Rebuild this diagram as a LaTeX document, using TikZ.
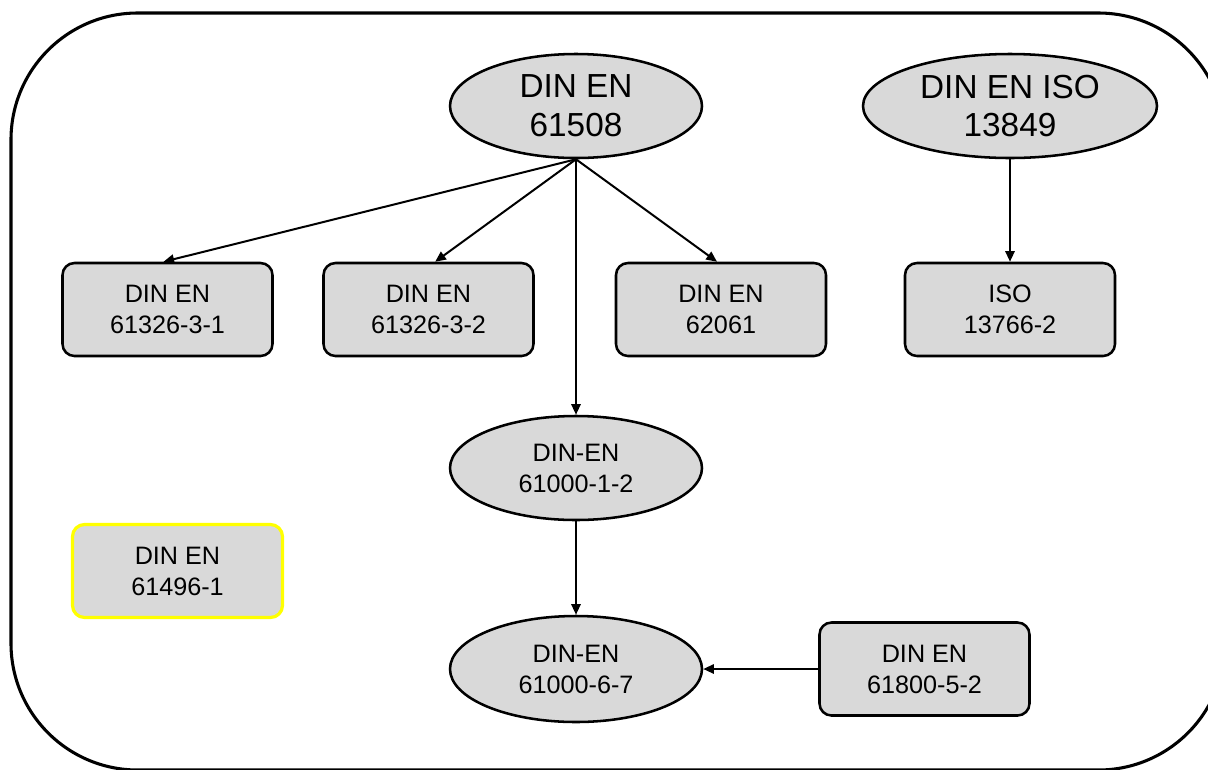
\documentclass[tikz,border=0pt]{standalone}
\usepackage{fontspec}
\setmainfont{Liberation Sans}
\usetikzlibrary{shapes.geometric,arrows.meta}
\definecolor{boxgray}{HTML}{D9D9D9}
\definecolor{hiyellow}{HTML}{FFFF00}
\tikzset{
  bigell/.style={ellipse, draw=black, fill=boxgray, line width=1.9pt, inner sep=0pt,
     minimum width=189pt, minimum height=78pt, align=center,
     font=\fontsize{25}{29}\selectfont},
  midell/.style={ellipse, draw=black, fill=boxgray, line width=1.9pt, inner sep=0pt,
     minimum width=189pt, minimum height=78pt, align=center,
     font=\fontsize{18.9}{23.25}\selectfont},
  stdbox/.style={rectangle, rounded corners=9pt, draw=black, fill=boxgray, line width=1.9pt,
     inner sep=0pt, minimum width=157.5pt, minimum height=69.75pt, align=center,
     font=\fontsize{18.9}{23.25}\selectfont},
  conn/.style={line width=1.5pt, -{Triangle[length=8pt,width=7pt]}},
}
\begin{document}
\begin{tikzpicture}[x=0.75pt,y=-0.75pt]
\clip (0,0) rectangle (1208,769);
\fill[white] (0,0) rectangle (1208,769);
\draw[line width=2.3pt, rounded corners=95pt] (11,13) rectangle (1225,770);

\node[bigell] (n61508) at (576,106) {DIN EN\\61508};
\node[bigell, minimum width=220.5pt] (n13849) at (1010,106) {DIN EN ISO\\13849};

\node[stdbox] (b1) at (167.5,309.5) {DIN EN\\61326-3-1};
\node[stdbox] (b2) at (428.5,309.5) {DIN EN\\61326-3-2};
\node[stdbox] (b3) at (721,309.5) {DIN EN\\62061};
\node[stdbox] (b4) at (1010,309.5) {ISO\\13766-2};

\node[midell] (e612) at (576,468) {DIN-EN\\61000-1-2};
\node[midell, minimum height=79.5pt] (e667) at (576,669) {DIN-EN\\61000-6-7};

\node[stdbox, draw=hiyellow, line width=2.4pt] (y1) at (177.5,571) {DIN EN\\61496-1};
\node[stdbox] (b5) at (924.5,669) {DIN EN\\61800-5-2};

\draw[conn] (n61508.south) -- ([xshift=-3pt]b1.north);
\draw[conn] (n61508.south) -- ([xshift=5pt]b2.north);
\draw[conn] (n61508.south) -- ([xshift=-3pt]b3.north);
\draw[conn] (n61508.south) -- (e612.north);
\draw[conn] (n13849.south) -- (b4.north);
\draw[conn] (e612.south) -- (e667.north);
\draw[conn] (b5.west) -- (e667.east);
\end{tikzpicture}
\end{document}
